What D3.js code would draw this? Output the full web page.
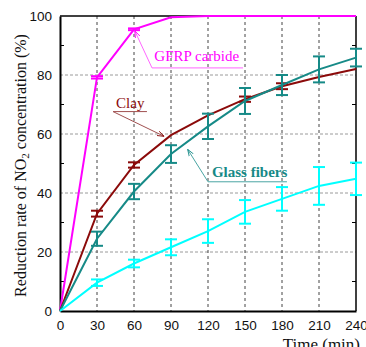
<!DOCTYPE html>
<html>
<head>
<meta charset="utf-8">
<script src="https://cdn.jsdelivr.net/npm/d3@7"></script>
<style>
  body { margin: 0; background: #fff; }
  svg { display: block; }
</style>
</head>
<body>
<div id="chart"></div>
<script>
// Data
const times = [0, 30, 60, 90, 120, 150, 180, 210, 240];
const gfrpValues = [0, 79.2, 95.5, 99.6, 100, 100, 100, 100, 100];
const gfrpErr = [0, 0.4, 0.3, 0, 0, 0, 0, 0, 0];
const clayValues = [0, 33.0, 49.5, 59.6, 66.3, 71.8, 76.2, 79.3, 82.0];
const clayErr = [0, 1.0, 0.9, 0, 0, 0.9, 1.0, 0, 0];
const glassValues = [0, 24.5, 40.5, 53.2, 62.6, 71.2, 76.6, 81.9, 85.9];
const glassErr = [0, 2.4, 2.6, 3.0, 4.3, 4.4, 3.4, 4.4, 3.0];
const cyanValues = [0, 9.6, 16.1, 21.6, 27.1, 33.6, 38.0, 42.4, 44.8];
const cyanErr = [0, 1.1, 1.3, 2.7, 4.0, 4.0, 4.0, 6.4, 5.5];
const xTicks = [0, 30, 60, 90, 120, 150, 180, 210, 240];
const yTicks = [0, 20, 40, 60, 80, 100];
const yMinorTicks = [10, 30, 50, 70, 90];

const series = [
  { name: "GFRP carbide", values: gfrpValues, err: gfrpErr, color: "#ff00ff" },
  { name: "Clay", values: clayValues, err: clayErr, color: "#8b0a0a" },
  { name: "Glass fibers", values: glassValues, err: glassErr, color: "#168a87" },
  { name: "", values: cyanValues, err: cyanErr, color: "#00ffff" }
];

// Basic set up
const W = 366, H = 347;
const margin = { top: 16, right: 10, bottom: 36, left: 60 };
const width = W - margin.left - margin.right;
const height = H - margin.top - margin.bottom;

const svg = d3.select("#chart").append("svg")
  .attr("width", W)
  .attr("height", H);

svg.append("defs").selectAll("marker")
  .data(["#ff00ff", "#8b0a0a", "#168a87"])
  .enter().append("marker")
    .attr("id", (d, i) => "arrow" + i)
    .attr("viewBox", "0 0 10 10")
    .attr("refX", 10).attr("refY", 5)
    .attr("markerWidth", 7).attr("markerHeight", 7)
    .attr("orient", "auto")
  .append("path")
    .attr("d", "M0,1.5 L10,5 L0,8.5")
    .attr("fill", "none")
    .attr("stroke", d => d)
    .attr("stroke-width", 1.2);

const g = svg.append("g")
  .attr("transform", "translate(" + margin.left + "," + margin.top + ")");

const x = d3.scaleLinear().domain([0, 240]).range([0, width]);
const y = d3.scaleLinear().domain([0, 100]).range([height, 0]);

// Grid
g.selectAll(".hgrid")
  .data(yTicks.filter(d => d > 0 && d < 100))
  .enter().append("line")
    .attr("x1", 0).attr("x2", width)
    .attr("y1", d => y(d)).attr("y2", d => y(d))
    .attr("stroke", "#9a9a9a")
    .attr("stroke-dasharray", "3,2");

g.selectAll(".vgrid")
  .data(xTicks.filter(d => d > 0 && d < 240))
  .enter().append("line")
    .attr("x1", d => x(d)).attr("x2", d => x(d))
    .attr("y1", 0).attr("y2", height)
    .attr("stroke", "#444")
    .attr("stroke-dasharray", "3,3");

// Axes
const xAxis = g.append("g")
  .attr("transform", "translate(0," + height + ")")
  .call(d3.axisBottom(x).tickValues(xTicks).tickSize(0).tickPadding(9));
xAxis.select(".domain").attr("stroke-width", 2);

const yAxis = g.append("g")
  .call(d3.axisLeft(y).tickValues(yTicks).tickSize(0).tickPadding(8));
yAxis.select(".domain").attr("stroke-width", 2);

g.selectAll(".tick text")
  .attr("font-family", "Liberation Sans, Arial, sans-serif")
  .attr("font-size", 13.5)
  .attr("fill", "#111");

// Right and top border
g.append("line")
  .attr("x1", width).attr("x2", width)
  .attr("y1", 0).attr("y2", height)
  .attr("stroke", "#000").attr("stroke-width", 1.5);
g.append("line")
  .attr("x1", 0).attr("x2", width)
  .attr("y1", 0).attr("y2", 0)
  .attr("stroke", "#000").attr("stroke-width", 1.5);

// Minor ticks, pointing inward on both sides
g.selectAll(".minorL")
  .data(yMinorTicks)
  .enter().append("line")
    .attr("x1", 0).attr("x2", 4)
    .attr("y1", d => y(d)).attr("y2", d => y(d))
    .attr("stroke", "#000");
g.selectAll(".minorR")
  .data(yMinorTicks)
  .enter().append("line")
    .attr("x1", width - 4).attr("x2", width)
    .attr("y1", d => y(d)).attr("y2", d => y(d))
    .attr("stroke", "#000");

// Lines and error bars
const line = d3.line()
  .x((d, i) => x(times[i]))
  .y(d => y(d));

series.forEach((s) => {
  g.append("path")
    .datum(s.values)
    .attr("fill", "none")
    .attr("stroke", s.color)
    .attr("stroke-width", 2)
    .attr("d", line);

  const bars = times.map((t, i) => ({ t, v: s.values[i], e: s.err[i] }))
    .filter(d => d.e > 0);

  const eb = g.selectAll(null)
    .data(bars)
    .enter().append("g")
    .attr("stroke", s.color)
    .attr("stroke-width", 2);

  eb.append("line")
    .attr("x1", d => x(d.t)).attr("x2", d => x(d.t))
    .attr("y1", d => y(d.v - d.e)).attr("y2", d => y(d.v + d.e));
  eb.append("line")
    .attr("x1", d => x(d.t) - 6).attr("x2", d => x(d.t) + 6)
    .attr("y1", d => y(d.v - d.e)).attr("y2", d => y(d.v - d.e));
  eb.append("line")
    .attr("x1", d => x(d.t) - 6).attr("x2", d => x(d.t) + 6)
    .attr("y1", d => y(d.v + d.e)).attr("y2", d => y(d.v + d.e));
});

// Annotations (in data units)
const notes = [
  { text: "GFRP carbide", tx: 76.5, ty: 84.6, ux0: 74.6, ux1: 148.4, uy: 82.4, ax: 60.6, ay: 95.0,
    color: "#ff00ff", line: "#ff66ff", weight: "normal", marker: 0 },
  { text: "Clay", tx: 45.5, ty: 68.8, ux0: 43, ux1: 70.5, uy: 67.6, ax: 84.5, ay: 59.2,
    color: "#8b0a0a", line: "#a05050", weight: "normal", marker: 1 },
  { text: "Glass fibers", tx: 123.2, ty: 45.4, ux0: 120, ux1: 184, uy: 43.8, ax: 103.5, ay: 54.8,
    color: "#168a87", line: "#4aa5a3", weight: "bold", marker: 2 }
];

notes.forEach((n) => {
  g.append("line")
    .attr("x1", x(n.ux0)).attr("x2", x(n.ux1))
    .attr("y1", y(n.uy)).attr("y2", y(n.uy))
    .attr("stroke", n.line).attr("stroke-width", 1);
  g.append("line")
    .attr("x1", x(n.ux0)).attr("y1", y(n.uy))
    .attr("x2", x(n.ax)).attr("y2", y(n.ay))
    .attr("stroke", n.line).attr("stroke-width", 1)
    .attr("marker-end", "url(#arrow" + n.marker + ")");
  g.append("text")
    .attr("x", x(n.tx)).attr("y", y(n.ty))
    .attr("font-family", "Liberation Serif, Times New Roman, serif")
    .attr("font-size", 15)
    .attr("font-weight", n.weight)
    .attr("fill", n.color)
    .text(n.text);
});

// Axis titles
svg.append("text")
  .attr("transform", "translate(26," + (margin.top + height / 2 + 2) + ") rotate(-90)")
  .attr("text-anchor", "middle")
  .attr("font-family", "Liberation Serif, Times New Roman, serif")
  .attr("font-size", 16)
  .attr("fill", "#111")
  .html("Reduction rate of NO<tspan font-size='11' dy='3'>2</tspan><tspan dy='-3'> concentration (%)</tspan>");

svg.append("text")
  .attr("x", 360)
  .attr("y", 350)
  .attr("text-anchor", "end")
  .attr("font-family", "Liberation Serif, Times New Roman, serif")
  .attr("font-size", 17)
  .attr("fill", "#111")
  .text("Time (min)");
</script>
</body>
</html>
